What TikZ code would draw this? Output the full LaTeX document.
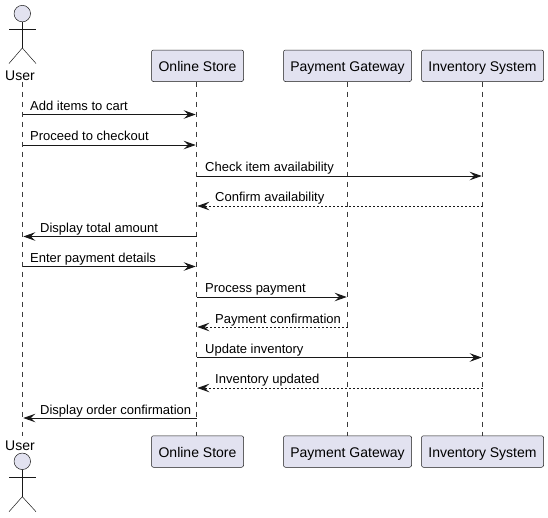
\documentclass[tikz,border=0pt]{standalone}
\usepackage{fontspec}
\setmainfont{Liberation Sans}
\usetikzlibrary{arrows.meta}
\definecolor{partfill}{HTML}{E2E2F0}
\definecolor{partline}{HTML}{181818}
\tikzset{
  x=1pt,y=-1pt,
  partbox/.style={draw=partline,fill=partfill,rounded corners=2pt,line width=0.5pt,minimum height=31.5pt,inner sep=0pt,text height=11.8pt,text depth=0pt,font=\fontsize{14}{16}\selectfont,anchor=center},
  lifeline/.style={draw=partline!85!white,line width=0.5pt,dash pattern=on 5pt off 5pt},
  msg/.style={draw=partline,line width=0.9pt,-{Stealth[length=12pt,width=8.5pt,inset=4.5pt]},shorten >=0.8pt},
  reply/.style={msg,dash pattern=on 2pt off 2pt},
  msglabel/.style={anchor=base west,inner sep=0pt,font=\fontsize{13}{15}\selectfont},
  actorlabel/.style={anchor=base,inner sep=0pt,font=\fontsize{14}{16}\selectfont},
  actorbody/.style={draw=partline,line width=0.5pt},
  actorhead/.style={draw=partline,fill=partfill,line width=0.5pt},
}
\begin{document}
\begin{tikzpicture}
\useasboundingbox (0,0) rectangle (548,517);
% participants
\node[actorlabel] (userT) at (20,80) {User};
\node[actorlabel] (userB) at (20,450) {User};
\node[partbox,minimum width=92pt] (storeT) at (197.5,65.75) {Online Store};
\node[partbox,minimum width=128pt] (payT) at (347.5,65.75) {Payment Gateway};
\node[partbox,minimum width=122pt] (invT) at (482.5,65.75) {Inventory System};
\node[partbox,minimum width=92pt] (storeB) at (197.5,451.5) {Online Store};
\node[partbox,minimum width=128pt] (payB) at (347.5,451.5) {Payment Gateway};
\node[partbox,minimum width=122pt] (invB) at (482.5,451.5) {Inventory System};
% lifeline anchors
\coordinate (uS) at (22.5,81.5);
\coordinate (uE) at (22.5,435.5);
\coordinate (sS) at (196.5,81.5);
\coordinate (sE) at (196.5,435.5);
\coordinate (pS) at (347.5,81.5);
\coordinate (pE) at (347.5,435.5);
\coordinate (iS) at (482.5,81.5);
\coordinate (iE) at (482.5,435.5);
\draw[lifeline] (uS) -- (uE);
\draw[lifeline] (sS) -- (sE);
\draw[lifeline] (pS) -- (pE);
\draw[lifeline] (iS) -- (iE);
% actors
\node[actorhead,circle,minimum size=16.5pt,inner sep=0pt] (headT) at (22.3,13.6) {};
\coordinate (hipT) at (22.3,48);
\coordinate (armLT) at (9,29);
\coordinate (armRT) at (36,29);
\coordinate (footLT) at (9,63.5);
\coordinate (footRT) at (36,63.5);
\draw[actorbody] (headT) -- (hipT);
\draw[actorbody] (armLT) -- (armRT);
\draw[actorbody] (footLT) -- (hipT) -- (footRT);
\node[actorhead,circle,minimum size=16.5pt,inner sep=0pt] (headB) at (22.3,461.3) {};
\coordinate (hipB) at (22.3,496.7);
\coordinate (armLB) at (9,477.3);
\coordinate (armRB) at (36,477.3);
\coordinate (footLB) at (9,511.7);
\coordinate (footRB) at (36,511.7);
\draw[actorbody] (headB) -- (hipB);
\draw[actorbody] (armLB) -- (armRB);
\draw[actorbody] (footLB) -- (hipB) -- (footRB);
% rows
\foreach \n/\y in {1/114.5,2/145,3/176,4/206,5/236.5,6/266.5,7/297,8/327,9/357.5,10/388,11/418}{\coordinate (r\n) at (0,\y);}
% messages
\draw[msg] (uS |- r1) -- (sS |- r1);
\draw[msg] (uS |- r2) -- (sS |- r2);
\draw[msg] (sS |- r3) -- (iS |- r3);
\draw[reply] (iS |- r4) -- (sS |- r4);
\draw[msg] (sS |- r5) -- (uS |- r5);
\draw[msg] (uS |- r6) -- (sS |- r6);
\draw[msg] (sS |- r7) -- (pS |- r7);
\draw[reply] (pS |- r8) -- (sS |- r8);
\draw[msg] (sS |- r9) -- (iS |- r9);
\draw[reply] (iS |- r10) -- (sS |- r10);
\draw[msg] (sS |- r11) -- (uS |- r11);
% labels
\node[msglabel] (l1) at (30,110) {Add items to cart};
\node[msglabel] (l2) at (30,140.5) {Proceed to checkout};
\node[msglabel] (l3) at (205,171) {Check item availability};
\node[msglabel] (l4) at (215,201.5) {Confirm availability};
\node[msglabel] (l5) at (40,232) {Display total amount};
\node[msglabel] (l6) at (30,262) {Enter payment details};
\node[msglabel] (l7) at (205,292) {Process payment};
\node[msglabel] (l8) at (215,323) {Payment confirmation};
\node[msglabel] (l9) at (205,353) {Update inventory};
\node[msglabel] (l10) at (215,383) {Inventory updated};
\node[msglabel] (l11) at (40,414) {Display order confirmation};
\end{tikzpicture}
\end{document}
